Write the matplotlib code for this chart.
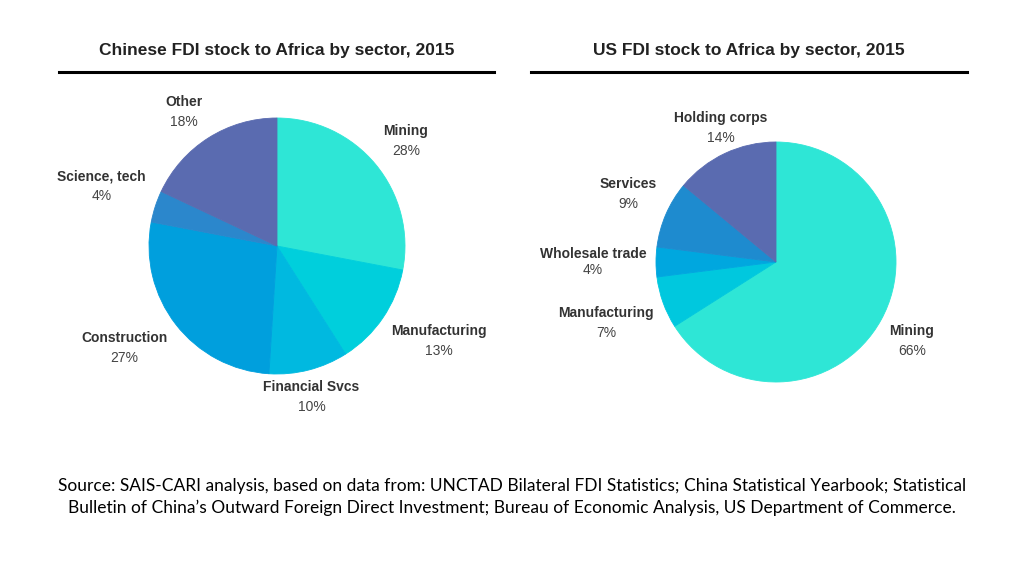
import numpy as np
import matplotlib
matplotlib.use("Agg")
from matplotlib import pyplot as plt

# data
cn_sectors = ["Mining", "Manufacturing", "Financial Svcs", "Construction", "Science, tech", "Other"]
cn_share = [28, 13, 10, 27, 4, 18]
cn_colors = ["#2ee6d6", "#00cfdc", "#00b9e0", "#009fdd", "#2b87cc", "#5a6bb0"]

us_sectors = ["Mining", "Manufacturing", "Wholesale trade", "Services", "Holding corps"]
us_share = [66, 7, 4, 9, 14]
us_colors = ["#2ee6d6", "#00c8de", "#00a7df", "#1e8bcf", "#5a6bb0"]

titles = ["Chinese FDI stock to Africa by sector, 2015", "US FDI stock to Africa by sector, 2015"]
source = ("Source: SAIS-CARI analysis, based on data from: UNCTAD Bilateral FDI Statistics; China Statistical Yearbook; Statistical\n"
          "Bulletin of China\u2019s Outward Foreign Direct Investment; Bureau of Economic Analysis, US Department of Commerce.")

W, H = 1024, 576
fig = plt.figure(figsize=(W / 100, H / 100), dpi=100)
fig.patch.set_facecolor("white")
renderer = fig.canvas.get_renderer()
LABEL_FONT = "Liberation Sans"


def px_axes(cx, cy, r):
    # axes whose box is exactly the pie's bounding box, in pixel coords
    return fig.add_axes([(cx - r) / W, (H - cy - r) / H, 2 * r / W, 2 * r / H])


def draw_pie(ax, names, vals, colors):
    wedges, _ = ax.pie(vals, colors=colors, startangle=90, counterclock=False,
                       wedgeprops=dict(linewidth=0.6))
    for w in wedges:
        w.set_edgecolor(w.get_facecolor())
    ax.set_xlim(-1, 1)
    ax.set_ylim(-1, 1)
    ax.set_aspect("equal")
    gap = 20  # pixels between label line and value line
    for w, name, v in zip(wedges, names, vals):
        ang = np.deg2rad((w.theta1 + w.theta2) / 2)
        c, s = np.cos(ang), np.sin(ang)
        ha = "left" if c > 0.5 else ("right" if c < -0.5 else "center")
        if s > 0.3:
            dy_name, dy_pct = gap, 0
            va = "bottom"
        elif s < -0.3:
            dy_name, dy_pct = 0, -gap
            va = "top"
        else:
            dy_name, dy_pct = 1, -1
            va = None
        anchor = (1.08 * c, 1.08 * s)
        t1 = ax.annotate(name, anchor, xytext=(0, dy_name * 0.72), textcoords="offset points",
                         ha=ha, va=va or "bottom", fontsize=10, fontweight="bold",
                         color="#333333", family=LABEL_FONT, annotation_clip=False)
        bb = t1.get_window_extent(renderer)
        xc = (bb.x0 + bb.x1) / 2
        ax_x = ax.transData.inverted().transform((xc, 0))[0]
        ax.annotate("%d%%" % v, (ax_x, anchor[1]), xytext=(0, dy_pct * 0.72),
                    textcoords="offset points", ha="center", va=va or "top",
                    fontsize=10, color="#444444", family=LABEL_FONT, annotation_clip=False)


ax1 = px_axes(277, 246, 128)
draw_pie(ax1, cn_sectors, cn_share, cn_colors)
ax2 = px_axes(776, 262, 120)
draw_pie(ax2, us_sectors, us_share, us_colors)

# titles and rules under them
for x0, x1, t in [(59, 494, titles[0]), (531, 967, titles[1])]:
    fig.text((x0 + x1) / 2 / W, 1 - 51 / H, t, ha="center", va="center",
             fontsize=12.5, fontweight="bold", color="#222222", family=LABEL_FONT)
    fig.add_artist(plt.Line2D([x0 / W, x1 / W], [1 - 72 / H, 1 - 72 / H],
                              color="black", linewidth=2.2))

fig.text(0.5, 1 - 497 / H, source, ha="center", va="center", fontsize=12.5,
         color="black", family="Lato", linespacing=1.35)

fig.savefig("out.png", dpi=100, facecolor="white")
